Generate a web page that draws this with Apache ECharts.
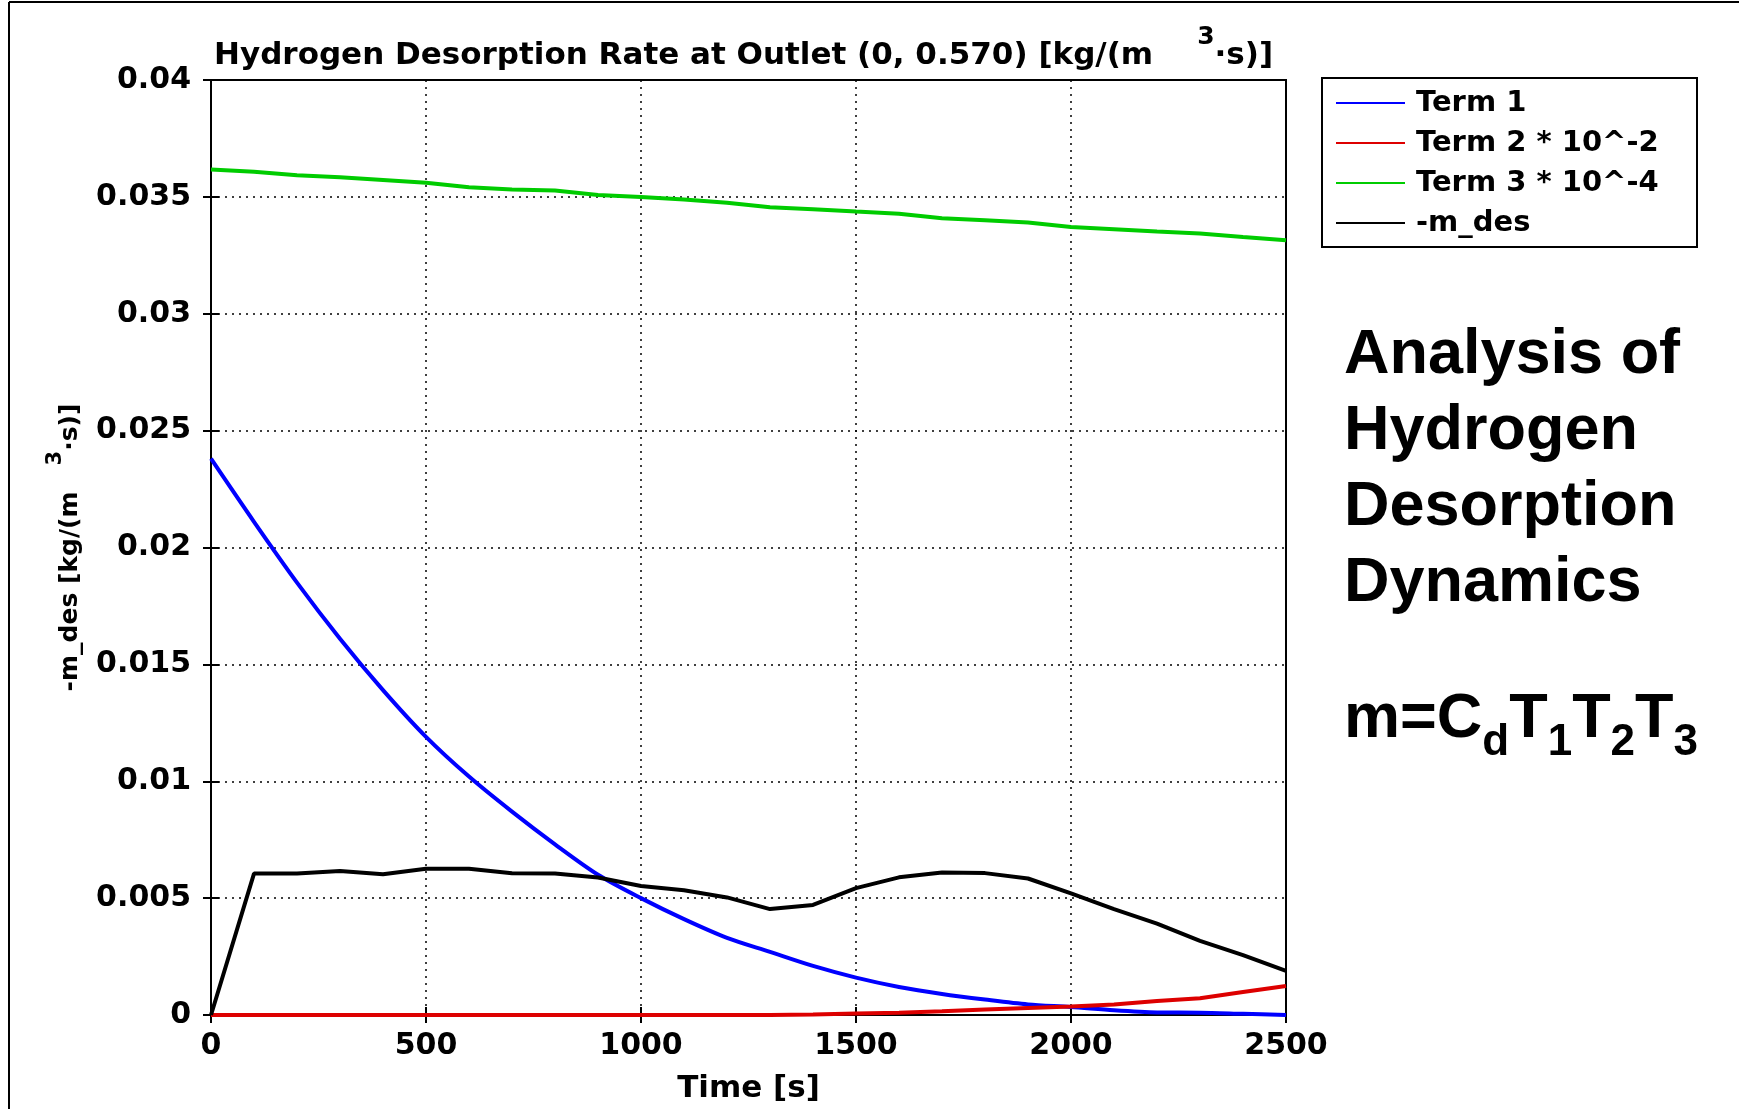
<!DOCTYPE html>
<html>
<head>
<meta charset="utf-8">
<script src="https://cdn.jsdelivr.net/npm/echarts@6/dist/echarts.min.js"></script>
<style>
  html, body { margin: 0; padding: 0; background: #fff; }
  #chart { width: 1739px; height: 1109px; }
</style>
</head>
<body>
<div id="chart"></div>
<script>
// time samples [s]
var times = [0, 100, 200, 300, 400, 500, 600, 700, 800, 900, 1000, 1100, 1200,
  1300, 1400, 1500, 1600, 1700, 1800, 1900, 2000, 2100, 2200, 2300, 2400, 2500]

var term1 = [0.0238, 0.0211, 0.0185, 0.0161, 0.0139, 0.0119, 0.0102, 0.0087, 0.0073,
  0.0060, 0.0050, 0.0041, 0.0033, 0.0027, 0.0021, 0.0016, 0.0012, 0.0009, 0.00066,
  0.00045, 0.00034, 0.0002, 0.00011, 0.0001, 0.00005, 0.0]

var term2 = [0, 0, 0, 0, 0, 0, 0, 0, 0, 0, 0, 0, 0, 0, 0.00002, 0.00006, 0.0001,
  0.00016, 0.00024, 0.0003, 0.00036, 0.00045, 0.0006, 0.00072, 0.00098, 0.00124]

var term3 = [0.03617, 0.03607, 0.03593, 0.03584, 0.03572, 0.0356, 0.03541, 0.03532,
  0.03527, 0.03508, 0.03499, 0.03489, 0.03475, 0.03456, 0.03447, 0.03437, 0.03428,
  0.03409, 0.034, 0.0339, 0.03371, 0.03362, 0.03352, 0.03343, 0.03328, 0.03314]

var mdes = [0, 0.00605, 0.00605, 0.00616, 0.00602, 0.00626, 0.00626, 0.00606, 0.00605,
  0.00588, 0.00552, 0.00534, 0.00503, 0.00453, 0.00471, 0.00543, 0.00589, 0.0061,
  0.00607, 0.00584, 0.0052, 0.00453, 0.00391, 0.00317, 0.00256, 0.00189]

var names = ['Term 1', 'Term 2 * 10^-2', 'Term 3 * 10^-4', '-m_des']
var colors = ['#0000ff', '#dd0000', '#00cc00', '#000000']

function pairs(arr){
  return times.map(function(t, i){ return [t, arr[i]] })
}

var font = 'DejaVu Sans'
var chart = echarts.init(document.getElementById('chart'))

var xBase = {
  type: 'value', min: 0, max: 2500, interval: 500,
  axisLine: { show: false },
  axisTick: { inside: true, length: 8, lineStyle: { color: '#000', width: 2 } }
}
var yBase = {
  type: 'value', min: 0, max: 0.04, interval: 0.005,
  axisLine: { show: false },
  axisTick: { inside: true, length: 8, lineStyle: { color: '#000', width: 2 } }
}

var option = {
  animation: false,
  backgroundColor: '#fff',
  title: {
    left: 209, top: 20,
    text: '{a|Hydrogen Desorption Rate at Outlet (0, 0.570) [kg/(m}{g|}{s|3}{a|·s)]}',
    textStyle: {
      rich: {
        a: { fontFamily: font, fontWeight: 'bold', fontSize: 31, color: '#000', lineHeight: 46, verticalAlign: 'bottom' },
        g: { width: 44 },
        s: { fontFamily: font, fontWeight: 'bold', fontSize: 25, color: '#000', lineHeight: 25, verticalAlign: 'top' }
      }
    }
  },
  legend: {
    orient: 'vertical',
    left: 1336, top: 88,
    padding: 0,
    icon: 'rect',
    itemWidth: 69, itemHeight: 2, itemGap: 10,
    textStyle: { fontFamily: font, fontWeight: 'bold', fontSize: 29, color: '#000', lineHeight: 30, padding: [0, 0, 0, 6] },
    data: names
  },
  grid: {
    left: 211, right: 453, top: 80, bottom: 91,
    show: true, borderColor: '#000', borderWidth: 2
  },
  xAxis: [
    Object.assign({}, xBase, {
      position: 'bottom',
      name: 'Time [s]', nameLocation: 'middle', nameGap: 58,
      nameTextStyle: { fontFamily: font, fontWeight: 'bold', fontSize: 31, color: '#000' },
      axisLabel: {
        margin: 16, fontFamily: font, fontWeight: 'bold', fontSize: 30, color: '#000',
        formatter: function(v){ return String(v) }
      },
      splitLine: { show: true, lineStyle: { color: '#000', width: 1.5, type: [2, 5] } }
    }),
    Object.assign({}, xBase, { position: 'top', axisLabel: { show: false }, splitLine: { show: false } })
  ],
  yAxis: [
    Object.assign({}, yBase, {
      position: 'left',
      name: '{a|-m_des [kg/(m}{g|}{s|3}{a|·s)]}',
      nameLocation: 'middle', nameGap: 128, nameRotate: 90,
      nameTextStyle: {
        rich: {
          a: { fontFamily: font, fontWeight: 'bold', fontSize: 25, color: '#000', lineHeight: 38, verticalAlign: 'bottom' },
          g: { width: 26 },
          s: { fontFamily: font, fontWeight: 'bold', fontSize: 21, color: '#000', lineHeight: 21, verticalAlign: 'top' }
        }
      },
      axisLabel: {
        margin: 20, fontFamily: font, fontWeight: 'bold', fontSize: 30, color: '#000',
        formatter: function(v){ return String(+v.toFixed(3)) }
      },
      splitLine: { show: true, lineStyle: { color: '#000', width: 1.5, type: [2, 5] } }
    }),
    Object.assign({}, yBase, { position: 'right', axisLabel: { show: false }, splitLine: { show: false } })
  ],
  series: [term1, term2, term3, mdes].map(function(arr, i){
    return {
      name: names[i], type: 'line', symbol: 'none',
      xAxisIndex: 0, yAxisIndex: 0,
      smooth: i === 0 ? 0.3 : false,
      lineStyle: { color: colors[i], width: 4 },
      itemStyle: { color: colors[i] },
      data: pairs(arr),
      z: i === 3 ? 4 : 3
    }
  }),
  graphic: [
    // frame of the slide
    { type: 'line', shape: { x1: 9, y1: 2, x2: 9, y2: 1109 }, style: { stroke: '#000', lineWidth: 2 } },
    { type: 'line', shape: { x1: 9, y1: 2, x2: 1739, y2: 2 }, style: { stroke: '#000', lineWidth: 2 } },
    // legend box
    { type: 'rect', shape: { x: 1322, y: 78, width: 375, height: 169 }, style: { fill: 'none', stroke: '#000', lineWidth: 2 } },
    {
      type: 'text', left: 1344, top: 318,
      style: {
        text: 'Analysis of\nHydrogen\nDesorption\nDynamics',
        font: 'bold 63px "Liberation Sans", Arial, sans-serif',
        lineHeight: 76, fill: '#000'
      }
    },
    {
      type: 'text', left: 1344, top: 688,
      style: {
        text: '{m|m=C}{b|d}{m|T}{b|1}{m|T}{b|2}{m|T}{b|3}',
        rich: {
          m: { font: 'bold 63px "Liberation Sans", Arial, sans-serif', fill: '#000', lineHeight: 90, verticalAlign: 'middle' },
          b: { font: 'bold 44px "Liberation Sans", Arial, sans-serif', fill: '#000', lineHeight: 44, verticalAlign: 'bottom' }
        }
      }
    }
  ]
}

chart.setOption(option)
</script>
</body>
</html>
